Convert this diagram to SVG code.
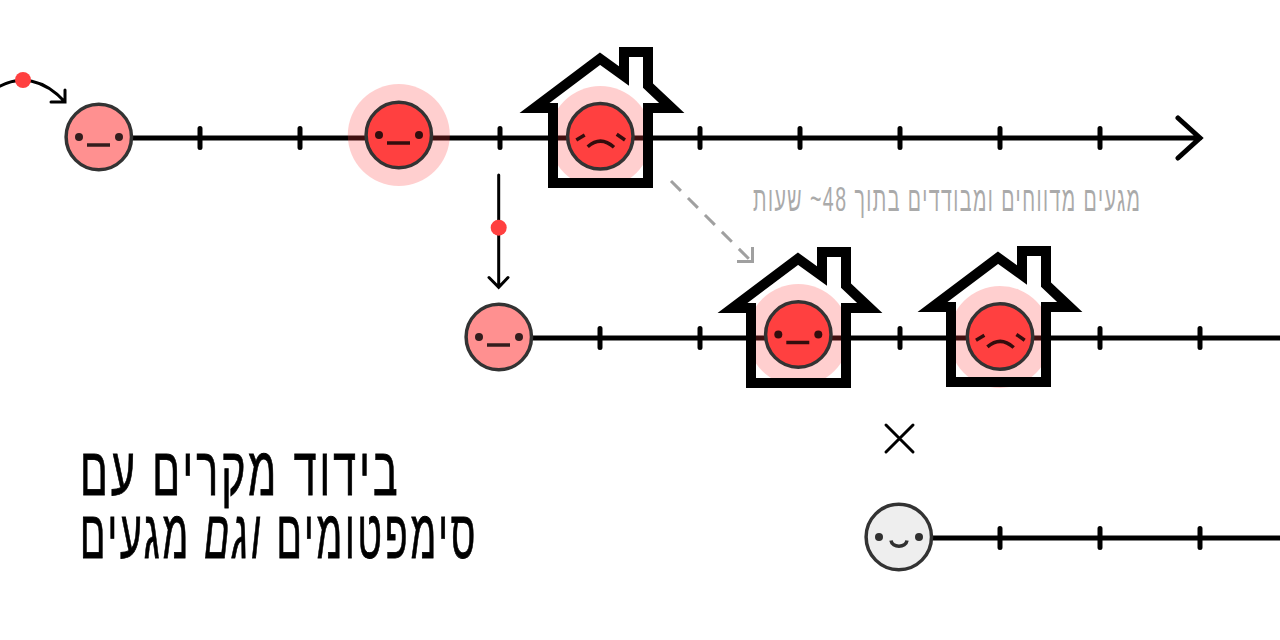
<svg xmlns="http://www.w3.org/2000/svg" xmlns:xlink="http://www.w3.org/1999/xlink" width="1280" height="640" viewBox="0 0 1280 640">
<style>
.axis{fill:none;stroke:#000;stroke-width:5;stroke-linecap:round;stroke-linejoin:miter}
.thin{fill:none;stroke:#000;stroke-width:3;stroke-linecap:round}
.dash{fill:none;stroke:#a0a0a0;stroke-width:3}
.dot{fill:#ff4040}
.halo{fill:#ff4040;opacity:.25}
.house{fill:none;stroke:#000;stroke-width:10;stroke-miterlimit:6}
.disc{stroke:#333;stroke-width:3.5}
.feat{fill:none;stroke:#000;stroke-opacity:.8;stroke-width:3.5}
.eye{fill:#000;fill-opacity:.8}
.title{font-family:"Liberation Sans","DejaVu Sans",sans-serif;font-size:40px;letter-spacing:3px;fill:#000;stroke:#000;stroke-width:.5}
.note{font-family:"Liberation Sans","DejaVu Sans",sans-serif;font-size:20px;letter-spacing:1.5px;fill:#aaa}
</style>
<defs>
<path id="house-shape" class="house" d="M648,183H553V108H534.5L600,58.7L624,76V52H648V85.6L671.8,108H648Z"/>
<g id="face-flat"><circle class="eye" cx="-20" cy="0" r="4"/><circle class="eye" cx="20" cy="0" r="4"/><path class="feat" d="M-12,8H11"/></g>
<g id="face-sad"><path class="feat" d="M-24,3.7L-15.6,-1.3M16.4,-2L24.7,3.7M-12.6,10.4Q0.5,-1 13.7,11"/></g>
<g id="face-smile"><circle class="eye" cx="-20" cy="0" r="4"/><circle class="eye" cx="20" cy="0" r="4"/><path class="feat" d="M-8,3.5C-7,11 7,11 8,3.5"/></g>
</defs>
<g id="connectors">
<path class="axis" d="M133,138H1200M1178,118L1200,138L1178,158"/>
<path class="axis" d="M200,128.5V147.5M300,128.5V147.5M500,128.5V147.5M700,128.5V147.5M800,128.5V147.5M900,128.5V147.5M1000,128.5V147.5M1100,128.5V147.5"/>
<path class="axis" d="M533,338H1282M600,328.5V347.5M700,328.5V347.5M900,328.5V347.5M1100,328.5V347.5M1200,328.5V347.5"/>
<path class="axis" d="M933,538H1282M1000,528.5V547.5M1100,528.5V547.5M1200,528.5V547.5"/>
<path class="thin" d="M-5,89C20,73 45,80 65,102M65,90V102H51"/>
<circle class="dot" cx="23" cy="80" r="8"/>
<path class="thin" d="M498.7,175V287M489,277.5L498.7,287.3L508,277.5"/>
<circle class="dot" cx="498.7" cy="227.7" r="8"/>
<path class="dash" stroke-dasharray="14 10" d="M671,181L752,262"/>
<path class="dash" d="M752.5,247V261.5H737"/>
<path class="thin" d="M886,425L913,452M913,425L886,452"/>
</g>
<g id="node-1"><circle class="disc" cx="98.8" cy="137" r="32.7" fill="#ff9090"/><use xlink:href="#face-flat" href="#face-flat" x="99" y="137"/></g>
<g id="node-2"><circle class="halo" cx="398.8" cy="135" r="51"/><circle class="disc" cx="398.8" cy="135" r="32.7" fill="#ff4040"/><use xlink:href="#face-flat" href="#face-flat" x="399" y="135"/></g>
<g id="node-3"><circle class="halo" cx="600.3" cy="137" r="51"/><use xlink:href="#house-shape" href="#house-shape"/><circle class="disc" cx="600.3" cy="136.3" r="32.7" fill="#ff4040"/><use xlink:href="#face-sad" href="#face-sad" x="600.3" y="136.3"/></g>
<g id="node-4"><circle class="disc" cx="498.8" cy="337" r="32.7" fill="#ff9090"/><use xlink:href="#face-flat" href="#face-flat" x="499" y="337"/></g>
<g id="node-5"><circle class="halo" cx="798.3" cy="335" r="51"/><use xlink:href="#house-shape" href="#house-shape" x="198" y="200"/><circle class="disc" cx="798.3" cy="334.5" r="32.7" fill="#ff4040"/><use xlink:href="#face-flat" href="#face-flat" x="798.3" y="334.5"/></g>
<g id="node-6"><circle class="halo" cx="1000" cy="337" r="51"/><use xlink:href="#house-shape" href="#house-shape" x="398" y="199"/><circle class="disc" cx="1000" cy="336.5" r="32.7" fill="#ff4040"/><use xlink:href="#face-sad" href="#face-sad" x="1000" y="336.5"/></g>
<g id="node-7"><circle class="disc" cx="898.8" cy="537" r="32.7" fill="#eee"/><use xlink:href="#face-smile" href="#face-smile" x="899" y="537"/></g>
<text class="note" transform="translate(1141.5,211) scale(1,1.75)" direction="rtl" text-anchor="start" textLength="388.5" lengthAdjust="spacingAndGlyphs">מגעים מדווחים ומבודדים בתוך 48~ שעות</text>
<text class="title" transform="translate(400.5,495) scale(1,1.7)" direction="rtl" text-anchor="start" textLength="320.5" lengthAdjust="spacingAndGlyphs">בידוד מקרים עם</text>
<text class="title" transform="translate(478,558) scale(1,1.7)" direction="rtl" text-anchor="start" textLength="398" lengthAdjust="spacingAndGlyphs">סימפטומים <tspan font-style="italic">וגם</tspan> מגעים</text>
</svg>
